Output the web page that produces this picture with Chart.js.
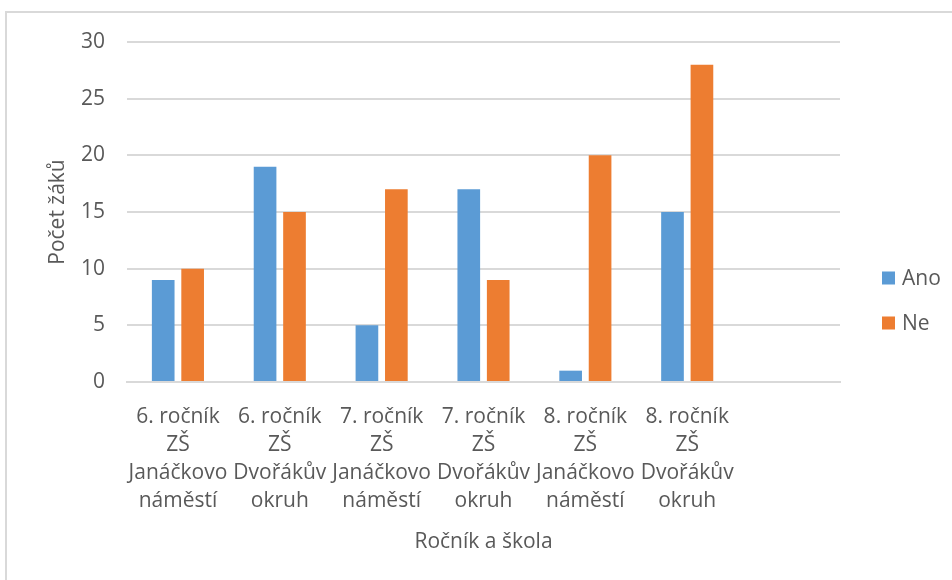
<!DOCTYPE html>
<html>
<head>
<meta charset="utf-8">
<script src="https://cdn.jsdelivr.net/npm/chart.js@4"></script>
<style>
  html, body { margin: 0; padding: 0; background: #fff; overflow: hidden; }
  #wrap { position: relative; width: 952px; height: 580px; }
  #frame { position: absolute; left: 5px; top: 11px; width: 2000px; height: 2000px; border: 2px solid #d9d9d9; box-sizing: border-box; }
  canvas { position: absolute; left: 0; top: 0; }
</style>
</head>
<body>
<div id="wrap">
  <div id="frame"></div>
  <canvas id="chart" width="952" height="580"></canvas>
</div>
<script>
// categories (7th slot is empty in the original)
const categories = [
  ['6. ročník', 'ZŠ', 'Janáčkovo', 'náměstí'],
  ['6. ročník', 'ZŠ', 'Dvořákův', 'okruh'],
  ['7. ročník', 'ZŠ', 'Janáčkovo', 'náměstí'],
  ['7. ročník', 'ZŠ', 'Dvořákův', 'okruh'],
  ['8. ročník', 'ZŠ', 'Janáčkovo', 'náměstí'],
  ['8. ročník', 'ZŠ', 'Dvořákův', 'okruh'],
  ''
];
const anoValues = [9, 19, 5, 17, 1, 15, null];
const neValues = [10, 15, 17, 9, 20, 28, null];
const yTicks = [0, 5, 10, 15, 20, 25, 30];

const FONT = "'Open Sans', 'Liberation Sans', sans-serif";
const TEXT = '#595959';
const GRID = '#d9d9d9';

// legend drawn at the right, like the Excel original
const sideLegend = {
  id: 'sideLegend',
  afterDraw(chart) {
    const ctx = chart.ctx;
    ctx.save();
    ctx.font = '21px ' + FONT;
    ctx.textBaseline = 'middle';
    ctx.textAlign = 'left';
    chart.data.datasets.forEach((ds, i) => {
      const cy = 278 + i * 45;
      ctx.fillStyle = ds.backgroundColor;
      ctx.fillRect(882, cy - 6.5, 13, 13);
      ctx.fillStyle = TEXT;
      ctx.fillText(ds.label, 902, cy + 1);
    });
    ctx.restore();
  }
};

new Chart(document.getElementById('chart'), {
  type: 'bar',
  data: {
    labels: categories,
    datasets: [
      { label: 'Ano', data: anoValues, backgroundColor: '#5B9BD5' },
      { label: 'Ne', data: neValues, backgroundColor: '#ED7D31' }
    ]
  },
  plugins: [sideLegend],
  options: {
    responsive: false,
    animation: false,
    maintainAspectRatio: false,
    categoryPercentage: 0.578,
    barPercentage: 0.77,
    layout: { padding: { top: 42, right: 112, left: 0, bottom: 0 } },
    plugins: {
      legend: { display: false },
      tooltip: { enabled: false }
    },
    scales: {
      x: {
        afterFit: s => { s.height = 198; },
        grid: { display: false },
        border: { color: GRID, width: 2 },
        ticks: {
          color: TEXT,
          font: { family: FONT, size: 21, lineHeight: 1.33 },
          padding: 13,
          maxRotation: 0,
          minRotation: 0,
          autoSkip: false
        },
        title: {
          display: true,
          text: 'Ročník a škola',
          color: TEXT,
          font: { family: FONT, size: 21 },
          padding: { top: 0, bottom: 25 }
        }
      },
      y: {
        min: 0,
        max: 30,
        afterFit: s => { s.width = 127; },
        afterBuildTicks: s => { s.ticks = yTicks.map(v => ({ value: v })); },
        border: { display: false },
        grid: { color: GRID, lineWidth: 2, drawTicks: false },
        ticks: {
          color: TEXT,
          font: { family: FONT, size: 21 },
          padding: 22
        },
        title: {
          display: true,
          text: 'Počet žáků',
          color: TEXT,
          font: { family: FONT, size: 21 },
          padding: { top: 45, bottom: 0 }
        }
      }
    }
  }
});
</script>
</body>
</html>
